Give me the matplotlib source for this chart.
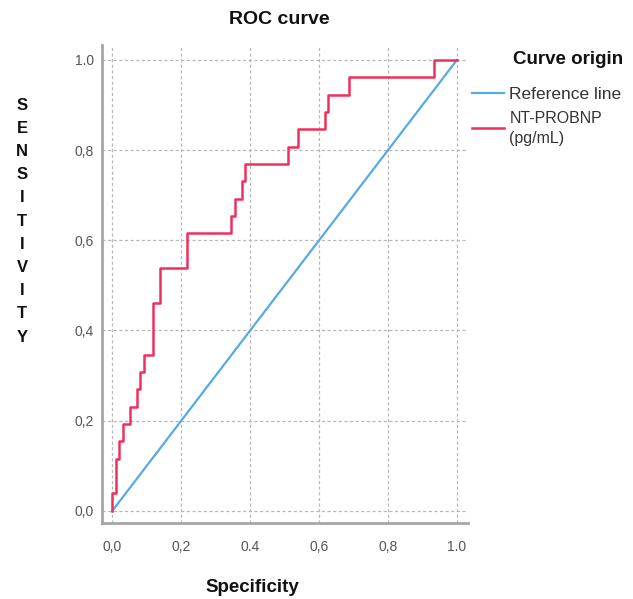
import matplotlib
matplotlib.use("Agg")
import matplotlib.pyplot as plt
import numpy as np

# ROC coordinates (x axis is 1 - specificity)
fpr = [0, 0, 0.011, 0.018, 0.031, 0.052, 0.071, 0.081, 0.091, 0.118, 0.139,
       0.218, 0.344, 0.355, 0.376, 0.384, 0.511, 0.540, 0.617, 0.627, 0.688,
       0.933, 1.0]
tp_count = [0, 1, 3, 4, 5, 6, 7, 8, 9, 12, 14, 16, 17, 18, 19, 20, 21, 22,
            23, 24, 25, 26, 26]
n_pos = 26
ref_line = [0.0, 1.0]

ticks = [0.0, 0.2, 0.4, 0.6, 0.8, 1.0]
xtick_labels = ["0,0", "0,2", "0.4", "0,6", "0,8", "1.0"]
ytick_labels = ["0,0", "0,2", "0,4", "0,6", "0,8", "1.0"]

series_labels = ["Reference line", "NT-PROBNP\n(pg/mL)"]

plt.rcParams["font.family"] = ["Liberation Sans", "DejaVu Sans"]

W, H = 633, 599
fig = plt.figure(figsize=(W / 100, H / 100), dpi=100)
ax = fig.add_axes([102 / W, 1 - 523 / H, 366 / W, 478 / H])

blue = "#58aae6"
red = "#f0305c"

tpr = np.array(tp_count) / n_pos
l_ref, = ax.plot(ref_line, ref_line, color=blue, lw=1.6, zorder=3)
l_roc, = ax.plot(fpr, tpr, drawstyle="steps-post", color=red, lw=1.8,
                 zorder=4)

ax.set_xlim(-0.030, 1.032)
ax.set_ylim(-0.027, 1.033)
ax.set_xticks(ticks)
ax.set_xticklabels(xtick_labels)
ax.set_yticks(ticks)
ax.set_yticklabels(ytick_labels)
ax.tick_params(axis="x", length=0, pad=12, labelsize=10, labelcolor="#555555")
ax.tick_params(axis="y", length=0, pad=6, labelsize=10, labelcolor="#555555")

ax.grid(True, color="#b8b8b8", lw=0.9, linestyle=(0, (2.5, 2)))
ax.set_axisbelow(True)
for s in ["top", "right"]:
    ax.spines[s].set_visible(False)
for s in ["left", "bottom"]:
    ax.spines[s].set_color("#a6a6a6")
    ax.spines[s].set_linewidth(2)

fig.text(279 / W, 1 - 19 / H, "ROC curve", ha="center", va="center",
         fontsize=14, fontweight="bold", color="#111111")
fig.text(252 / W, 1 - 587 / H, "Specificity", ha="center", va="center",
         fontsize=13.5, fontweight="bold", color="#111111")
for i, ch in enumerate("SENSITIVITY"):
    fig.text(22 / W, 1 - (105 + 23.2 * i) / H, ch, ha="center", va="center",
             fontsize=12, fontweight="bold", color="#111111")

fig.text(513 / W, 1 - 60 / H, "Curve origin", ha="left", va="center",
         fontsize=13.5, fontweight="bold", color="#111111")
leg = ax.legend([l_ref, l_roc], series_labels, loc="upper left",
                bbox_to_anchor=(472 / W, 1 - 87 / H),
                bbox_transform=fig.transFigure, frameon=False,
                fontsize=12.5, handlelength=1.85, handletextpad=0.3,
                borderpad=0, borderaxespad=0, labelspacing=0.5)
for t in leg.get_texts():
    t.set_color("#333333")
leg.get_texts()[1].set_fontsize(11.5)
leg.get_texts()[1].set_linespacing(1.45)

fig.savefig("out.png", dpi=100)
